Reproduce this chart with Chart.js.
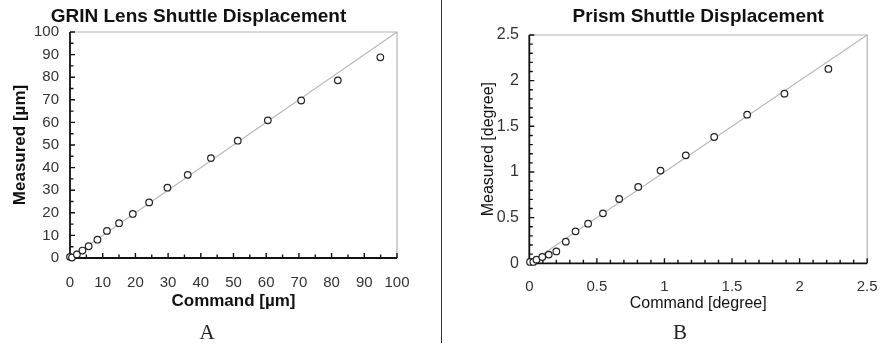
<!DOCTYPE html>
<html><head><meta charset="utf-8">
<script src="https://cdn.jsdelivr.net/npm/chart.js@4.4.0/dist/chart.umd.min.js"></script>
<style>
html,body{margin:0;padding:0;background:#fff;width:892px;height:349px;overflow:hidden;}
#wrap{position:relative;width:892px;height:349px;}
.c{position:absolute;top:0;width:446px;height:349px;}
.lab{position:absolute;font-family:"Liberation Serif","Times New Roman",serif;font-size:21px;color:#222;transform:translate(-50%,-50%);line-height:1;}
#sep{position:absolute;left:441px;top:0;width:1px;height:343px;background:#333;}
</style></head>
<body><div id="wrap">
<div class="c" style="left:0"><canvas id="cA" width="446" height="349"></canvas></div>
<div class="c" style="left:446px"><canvas id="cB" width="446" height="349"></canvas></div>
<div id="sep"></div>
<div class="lab" style="left:207px;top:332px">A</div>
<div class="lab" style="left:680px;top:332px">B</div>
</div>
<script>
// ---- Data: GRIN lens shuttle (chart A) ----
const grinCommand  = [0, 0.6, 2.1, 3.8, 5.7, 8.4, 11.3, 15.0, 19.2, 24.2, 29.8, 36.0, 43.1, 51.3, 60.5, 70.7, 81.9, 94.9];
const grinMeasured = [0.5, 0.2, 1.6, 3.3, 5.2, 8.1, 12.0, 15.4, 19.5, 24.6, 31.1, 36.8, 44.2, 51.9, 60.9, 69.7, 78.6, 88.8];
const grinIdeal    = [0, 100];
const grinTicks    = [0, 10, 20, 30, 40, 50, 60, 70, 80, 90, 100];

// ---- Data: Prism shuttle (chart B) ----
const prismCommand  = [0.005, 0.03, 0.053, 0.096, 0.144, 0.20, 0.27, 0.342, 0.435, 0.545, 0.665, 0.806, 0.971, 1.158, 1.368, 1.612, 1.888, 2.213];
const prismMeasured = [0.015, 0.015, 0.04, 0.069, 0.095, 0.13, 0.237, 0.35, 0.434, 0.547, 0.704, 0.836, 1.015, 1.182, 1.383, 1.628, 1.858, 2.128];
const prismIdeal    = [0, 2.5];
const prismTicks    = [0, 0.5, 1, 1.5, 2, 2.5];

const FONT = '"Liberation Sans", Arial, Helvetica, sans-serif';

const framePlugin = {
  id: 'frame',
  beforeDatasetsDraw(chart, args, o) {
    const {ctx, chartArea: a, scales: {x, y}} = chart;
    ctx.save();
    // top & right border (gray)
    ctx.strokeStyle = '#b4b4b4'; ctx.lineWidth = 1.2;
    ctx.beginPath();
    ctx.moveTo(a.left, a.top); ctx.lineTo(a.right, a.top); ctx.lineTo(a.right, a.bottom);
    ctx.stroke();
    // ticks
    ctx.strokeStyle = '#111'; ctx.lineWidth = 1.4;
    ctx.beginPath();
    const n = Math.round((o.max - o.min) / o.minor);
    for (let i = 0; i <= n; i++) {
      const v = o.min + i * o.minor;
      const isMajor = Math.abs(v / o.major - Math.round(v / o.major)) < 1e-6;
      const len = isMajor ? o.majorLen : o.minorLen;
      const px = x.getPixelForValue(v);
      ctx.moveTo(px, a.bottom); ctx.lineTo(px, a.bottom - len);
      const py = y.getPixelForValue(v);
      ctx.moveTo(a.left, py); ctx.lineTo(a.left + len, py);
    }
    ctx.stroke();
    // left & bottom axis lines (black)
    ctx.lineWidth = 1.8;
    ctx.beginPath();
    ctx.moveTo(a.left, a.top); ctx.lineTo(a.left, a.bottom); ctx.lineTo(a.right, a.bottom);
    ctx.stroke();
    ctx.restore();
  }
};

function makeChart(id, c) {
  const pts = c.xs.map((v, i) => ({x: v, y: c.ys[i]}));
  const ideal = c.ideal.map(v => ({x: v, y: v}));
  const ticksFrom = arr => s => { s.ticks = arr.map(v => ({value: v})); };
  return new Chart(document.getElementById(id), {
    type: 'scatter',
    data: {
      datasets: [
        {data: pts, pointStyle: 'circle', pointRadius: 3.3, pointBorderWidth: 1.2,
         borderColor: '#222', backgroundColor: '#fff', clip: false, order: 0},
        {data: ideal, showLine: true, pointRadius: 0, borderColor: '#b8b8b8', borderWidth: 1.1,
         clip: false, order: 1}
      ]
    },
    options: {
      responsive: false, animation: false, devicePixelRatio: 1,
      layout: {padding: {left: 0, top: 0, right: c.padRight, bottom: 29.6}},
      plugins: {
        legend: {display: false}, tooltip: {enabled: false},
        title: {display: true, text: c.title, fullSize: c.titleFull, color: '#111',
                font: {family: FONT, size: 19, weight: 'bold'},
                padding: {top: 5, bottom: c.titleBottom}},
        frame: {min: 0, max: c.max, minor: c.minor, major: c.major, majorLen: 5, minorLen: 3.5}
      },
      scales: {
        x: {
          type: 'linear', min: 0, max: c.max,
          afterBuildTicks: ticksFrom(c.ticks),
          afterFit: s => { s.height = c.xH; },
          grid: {display: false, drawTicks: false, tickLength: 0}, border: {display: false},
          ticks: {padding: c.xPad, color: '#333', autoSkip: false, maxRotation: 0,
                  font: {family: FONT, size: c.xTickSize}, callback: v => String(v)},
          title: {display: true, text: c.xTitle, color: '#111',
                  font: {family: FONT, size: c.axTitleSize, weight: c.axTitleWeight},
                  padding: {top: 0, bottom: c.xTitlePad}}
        },
        y: {
          type: 'linear', min: 0, max: c.max,
          afterBuildTicks: ticksFrom(c.ticks),
          afterFit: s => { s.width = c.yW; },
          grid: {display: false, drawTicks: false, tickLength: 0}, border: {display: false},
          ticks: {padding: c.yPad, color: '#333', autoSkip: false,
                  font: {family: FONT, size: c.yTickSize}, callback: v => String(v)},
          title: {display: true, text: c.yTitle, color: '#111',
                  font: {family: FONT, size: c.axTitleSize, weight: c.axTitleWeight},
                  padding: {top: c.yTitlePad, bottom: 0}}
        }
      }
    },
    plugins: [framePlugin]
  });
}

makeChart('cA', {
  xs: grinCommand, ys: grinMeasured, ideal: grinIdeal, ticks: grinTicks,
  max: 100, minor: 5, major: 10,
  title: 'GRIN Lens Shuttle Displacement', titleFull: true, titleBottom: 4.2,
  xTitle: 'Command [\u00b5m]', yTitle: 'Measured [\u00b5m]',
  axTitleSize: 17, axTitleWeight: 'bold',
  padRight: 49, xH: 61.4, yW: 70,
  xTickSize: 15, yTickSize: 15, xPad: 16, yPad: 11,
  xTitlePad: 8.2, yTitlePad: 9.8
});

makeChart('cB', {
  xs: prismCommand, ys: prismMeasured, ideal: prismIdeal, ticks: prismTicks,
  max: 2.5, minor: 0.1, major: 0.5,
  title: 'Prism Shuttle Displacement', titleFull: false, titleBottom: 7.2,
  xTitle: 'Command [degree]', yTitle: 'Measured [degree]',
  axTitleSize: 16, axTitleWeight: 'normal',
  padRight: 14.3, xH: 56.1, yW: 83.3,
  xTickSize: 15, yTickSize: 16, xPad: 14.4, yPad: 10.3,
  xTitlePad: 5.8, yTitlePad: 32.9
});
</script>
</body></html>
